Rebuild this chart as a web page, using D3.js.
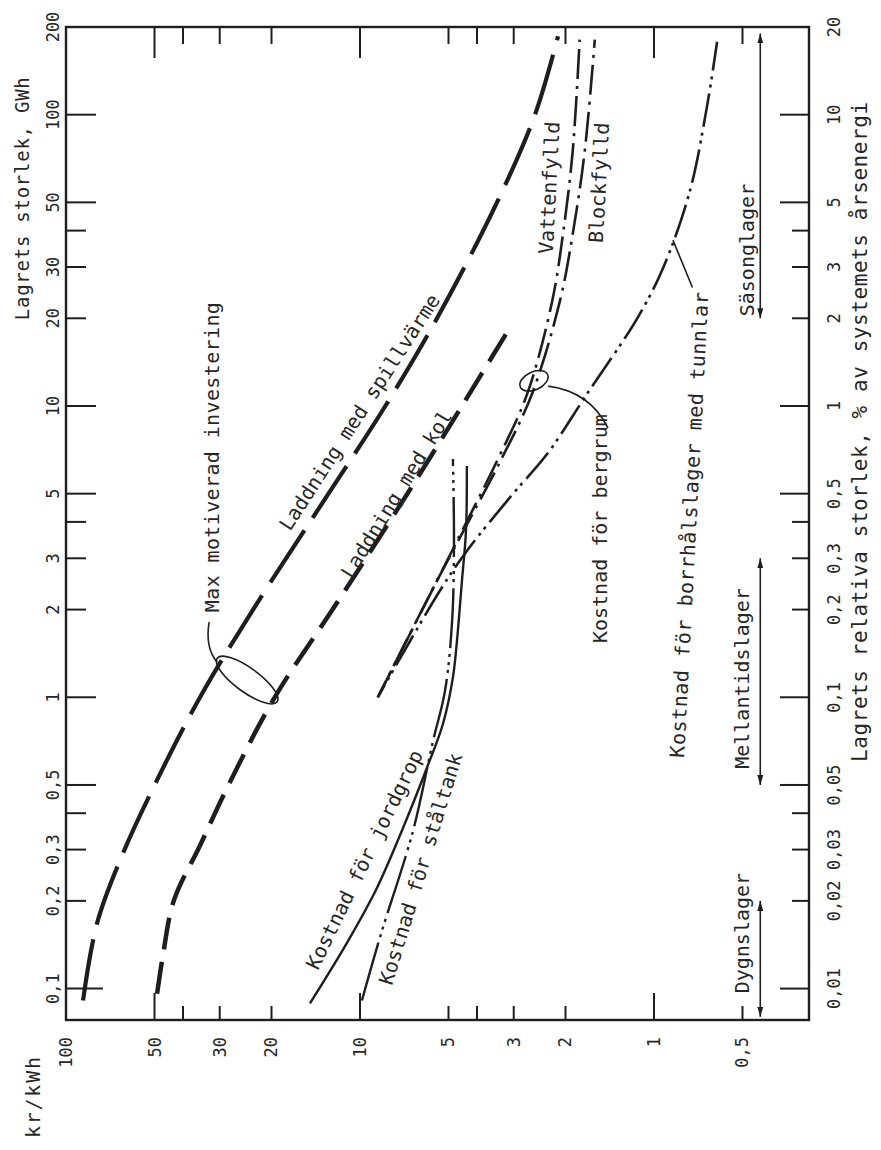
<!DOCTYPE html>
<html>
<head>
<meta charset="utf-8">
<script src="https://cdn.jsdelivr.net/npm/d3@7"></script>
<style>
  body { margin: 0; background: #fff; }
  text { font-family: 'DejaVu Sans Mono', monospace; fill: #262626; }
</style>
</head>
<body>
<div id="chart"></div>
<script>
// axis values
const gwhExtent = [0.078, 200];
const krExtent = [100, 0.297];
const gwhLabels = [0.1, 0.2, 0.3, 0.5, 1, 2, 3, 5, 10, 20, 30, 50, 100, 200];
const gwhMajor = [0.1, 0.5, 1, 5, 10, 50, 100];
const gwhMinor = [0.2, 0.3, 0.4, 2, 3, 4, 20, 30, 40];
const krLabels = [100, 50, 30, 20, 10, 5, 3, 2, 1, 0.5];
const krMajor = [50, 10, 1];
const krMinor = [40, 30, 20, 5, 4, 3, 2, 0.5];
const pctLabels = [0.01, 0.02, 0.03, 0.05, 0.1, 0.2, 0.3, 0.5, 1, 2, 3, 5, 10, 20];
const pctMajor = [0.01, 0.05, 0.1, 0.5, 1, 5, 10];
const pctMinor = [0.02, 0.03, 0.04, 0.2, 0.3, 0.4, 2, 3, 4];
const gwhPerPct = 10;

// curves, [GWh, kr/kWh]
const spillvarme = [[0.091, 87.5], [0.167, 78.5], [0.286, 64.5], [0.52, 49], [1, 35], [2, 23.1], [5, 12.8], [10, 8.2], [20, 5.47], [50, 3.42], [100, 2.54], [186, 2.12]];
const kol = [[0.096, 49], [0.13, 46.8], [0.2, 43], [0.31, 35], [0.5, 28], [1, 19.5], [2, 12.4], [5, 6.9], [10, 4.5], [19, 3.05]];
const vattenfylld = [[1.0, 8.7], [2.55, 5.43], [3.72, 4.5], [6.47, 3.42], [11.0, 2.7], [22.9, 2.22], [38.9, 2.04], [75, 1.89], [181, 1.79]];
const blockfylld = [[1.0, 8.7], [2.55, 5.43], [3.72, 4.45], [6.47, 3.33], [11.0, 2.6], [22.9, 2.09], [38.9, 1.89], [75, 1.72], [181, 1.59]];
const borrhal = [[1.0, 8.7], [2.32, 5.35], [3.18, 4.33], [4.99, 3.02], [6.84, 2.31], [11.0, 1.69], [20, 1.14], [29.7, 0.932], [54.7, 0.755], [107, 0.66], [178, 0.61]];
const jordgrop = [[0.089, 14.8], [0.143, 11.1], [0.222, 8.75], [0.356, 7.14], [0.573, 5.92], [0.811, 5.22], [1.17, 4.83], [1.56, 4.68], [2.51, 4.5], [3.73, 4.36], [6.22, 4.33]];
const staltank = [[0.091, 9.85], [0.15, 8.55], [0.348, 6.6], [0.71, 5.64], [1.05, 5.14], [1.83, 4.86], [3.44, 4.79], [6.58, 4.83]];

// storage classes, % of annual energy
const sasong = [2, 19];
const mellantid = [0.05, 0.3];
const dygn = [0.008, 0.02];

const W = 881, H = 1150;
const frame = { left: 66, right: 809, top: 27, bottom: 1020 };
const ink = "#1e1e1e";

const svg = d3.select("#chart").append("svg")
    .attr("width", W)
    .attr("height", H)
    .attr("viewBox", [0, 0, W, H]);

svg.append("rect").attr("width", W).attr("height", H).attr("fill", "#fff");

const x = d3.scaleLog().domain(krExtent).range([frame.left, frame.right]);
const y = d3.scaleLog().domain(gwhExtent).range([frame.bottom, frame.top]);
const yp = v => y(v * gwhPerPct);
const fmt = v => String(v).replace(".", ",");

const defs = svg.append("defs");
defs.append("marker")
    .attr("id", "arrow")
    .attr("viewBox", "0 0 10 6")
    .attr("refX", 10).attr("refY", 3)
    .attr("markerWidth", 10).attr("markerHeight", 6)
    .attr("markerUnits", "userSpaceOnUse")
    .attr("orient", "auto-start-reverse")
    .append("path").attr("d", "M0,0L10,3L0,6Z").attr("fill", ink);

// frame
svg.append("rect")
    .attr("x", x(krExtent[0])).attr("y", y(gwhExtent[1]))
    .attr("width", x(krExtent[1]) - x(krExtent[0]))
    .attr("height", y(gwhExtent[0]) - y(gwhExtent[1]))
    .attr("fill", "none").attr("stroke", ink).attr("stroke-width", 2.4);

const ticks = svg.append("g").attr("stroke", ink).attr("stroke-width", 2);

// left ticks
ticks.selectAll(".lt").data(gwhMajor.map(v => [v, v === 0.1 ? 37 : 30]).concat(gwhMinor.map(v => [v, 20])))
  .join("line")
    .attr("x1", frame.left).attr("x2", d => frame.left + d[1])
    .attr("y1", d => y(d[0])).attr("y2", d => y(d[0]));

// top and bottom ticks
ticks.selectAll(".tt").data(krMajor.map(v => [v, 31]).concat(krMinor.map(v => [v, 17])))
  .join("line")
    .attr("x1", d => x(d[0])).attr("x2", d => x(d[0]))
    .attr("y1", frame.top).attr("y2", d => frame.top + d[1]);
ticks.selectAll(".bt").data(krMajor.map(v => [v, 27]).concat(krMinor.map(v => [v, 14])))
  .join("line")
    .attr("class", "bt")
    .attr("x1", d => x(d[0])).attr("x2", d => x(d[0]))
    .attr("y1", frame.bottom).attr("y2", d => frame.bottom - d[1]);

// right ticks
ticks.selectAll(".rt").data(pctMajor.map(v => [v, 29]).concat(pctMinor.map(v => [v, 17])))
  .join("line")
    .attr("class", "rt")
    .attr("x1", frame.right).attr("x2", d => frame.right - d[1])
    .attr("y1", d => yp(d[0])).attr("y2", d => yp(d[0]));

// tick labels
svg.append("g").selectAll("text").data(gwhLabels).join("text")
    .attr("transform", d => `translate(${frame.left - 7},${y(d)}) rotate(-90)`)
    .attr("text-anchor", "middle")
    .attr("font-size", 17)
    .text(fmt);

svg.append("g").selectAll("text").data(krLabels).join("text")
    .attr("transform", d => `translate(${x(d) + 6},${frame.bottom + 17}) rotate(-90)`)
    .attr("text-anchor", "end")
    .attr("font-size", 17)
    .text(fmt);

svg.append("g").selectAll("text").data(pctLabels).join("text")
    .attr("transform", d => `translate(${frame.right + 31},${yp(d)}) rotate(-90)`)
    .attr("text-anchor", "middle")
    .attr("font-size", 17)
    .text(fmt);

// axis titles
svg.append("text")
    .attr("transform", `translate(29,${y(19.7)}) rotate(-90)`)
    .attr("font-size", 19).attr("textLength", 243).attr("lengthAdjust", "spacing")
    .text("Lagrets storlek, GWh");
svg.append("text")
    .attr("transform", `translate(40,${frame.bottom + 118}) rotate(-90)`)
    .attr("font-size", 20).attr("textLength", 81).attr("lengthAdjust", "spacing")
    .text("kr/kWh");
svg.append("text")
    .attr("transform", `translate(${frame.right + 58},${y(0.6)}) rotate(-90)`)
    .attr("font-size", 21).attr("textLength", 660).attr("lengthAdjust", "spacing")
    .text("Lagrets relativa storlek, % av systemets årsenergi");

// curves
const line = d3.line()
    .x(d => x(d[1]))
    .y(d => y(d[0]))
    .curve(d3.curveCatmullRom.alpha(0.5));

const curves = [
  { data: spillvarme, width: 4.2, dash: "62,15" },
  { data: kol, width: 4.5, dash: "32,13" },
  { data: vattenfylld, width: 2.6, dash: "30,7,3,7" },
  { data: blockfylld, width: 2.6, dash: "30,7,3,7", offset: 12 },
  { data: borrhal, width: 2.6, dash: "34,6,3,5,3,6", offset: 20 },
  { data: jordgrop, width: 2.4, dash: null },
  { data: staltank, width: 2.4, dash: "60,6,3,5,3,5,3,6" }
];

svg.append("g").selectAll("path").data(curves).join("path")
    .attr("d", d => line(d.data))
    .attr("fill", "none")
    .attr("stroke", ink)
    .attr("stroke-width", d => d.width)
    .attr("stroke-dasharray", d => d.dash)
    .attr("stroke-dashoffset", d => d.offset || 0);

// annotations: ellipses and leaders
const ann = svg.append("g").attr("fill", "none").attr("stroke", ink).attr("stroke-width", 1.6);

ann.append("ellipse")
    .attr("transform", `translate(${x(24.2)},${y(1.146)}) rotate(36)`)
    .attr("rx", 37).attr("ry", 12);
ann.append("path")
    .attr("d", `M${x(30.6)},${y(1.32)}Q${x(33.7)},${y(1.476)} ${x(32.6)},${y(1.81)}`);

ann.append("ellipse")
    .attr("transform", `translate(${x(2.56)},${y(12.2)}) rotate(-25)`)
    .attr("rx", 15).attr("ry", 9);
ann.append("path")
    .attr("d", `M${x(2.29)},${y(11.7)}Q${x(1.65)},${y(11.2)} ${x(1.434)},${y(8.4)}`);

ann.append("path")
    .attr("d", `M${x(0.74)},${y(25.5)}L${x(0.862)},${y(37.1)}`);

// storage class arrows
const arrows = [sasong, mellantid, dygn];
ann.selectAll(".arr").data(arrows).join("line")
    .attr("x1", x(0.435)).attr("x2", x(0.435))
    .attr("y1", d => yp(d[0])).attr("y2", d => yp(d[1]))
    .attr("stroke-width", 1.6)
    .attr("marker-start", "url(#arrow)")
    .attr("marker-end", "url(#arrow)");

// curve and region labels
const labels = [
  { text: "Max motiverad investering", gwh: 1.96, kr: 30.2, angle: -90, len: 310 },
  { text: "Laddning med spillvärme", gwh: 3.69, kr: 17.3, angle: -57 },
  { text: "Laddning med kol", gwh: 2.53, kr: 10.65, angle: -58.4 },
  { text: "Kostnad för jordgrop", gwh: 0.115, kr: 13.9, angle: -64 },
  { text: "Kostnad för ståltank", gwh: 0.102, kr: 7.78, angle: -73 },
  { text: "Vattenfylld", gwh: 56, kr: 2.15, angle: -87, anchor: "middle" },
  { text: "Blockfylld", gwh: 58.2, kr: 1.456, angle: -87, anchor: "middle" },
  { text: "Kostnad för bergrum", gwh: 1.535, kr: 1.445, angle: -90 },
  { text: "Kostnad för borrhålslager med tunnlar", gwh: 0.619, kr: 0.79, angle: -87, len: 466 },
  { text: "Säsonglager", gwh: 34.3, kr: 0.457, angle: -90, anchor: "middle" },
  { text: "Mellantidslager", gwh: 1.16, kr: 0.475, angle: -90, anchor: "middle" },
  { text: "Dygnslager", gwh: 0.155, kr: 0.475, angle: -90, anchor: "middle" }
];

svg.append("g").selectAll("text").data(labels).join("text")
    .attr("transform", d => `translate(${x(d.kr)},${y(d.gwh)}) rotate(${d.angle})`)
    .attr("text-anchor", d => d.anchor || "start")
    .attr("font-size", 20)
    .attr("textLength", d => d.len || null)
    .attr("lengthAdjust", "spacing")
    .text(d => d.text);
</script>
</body>
</html>
